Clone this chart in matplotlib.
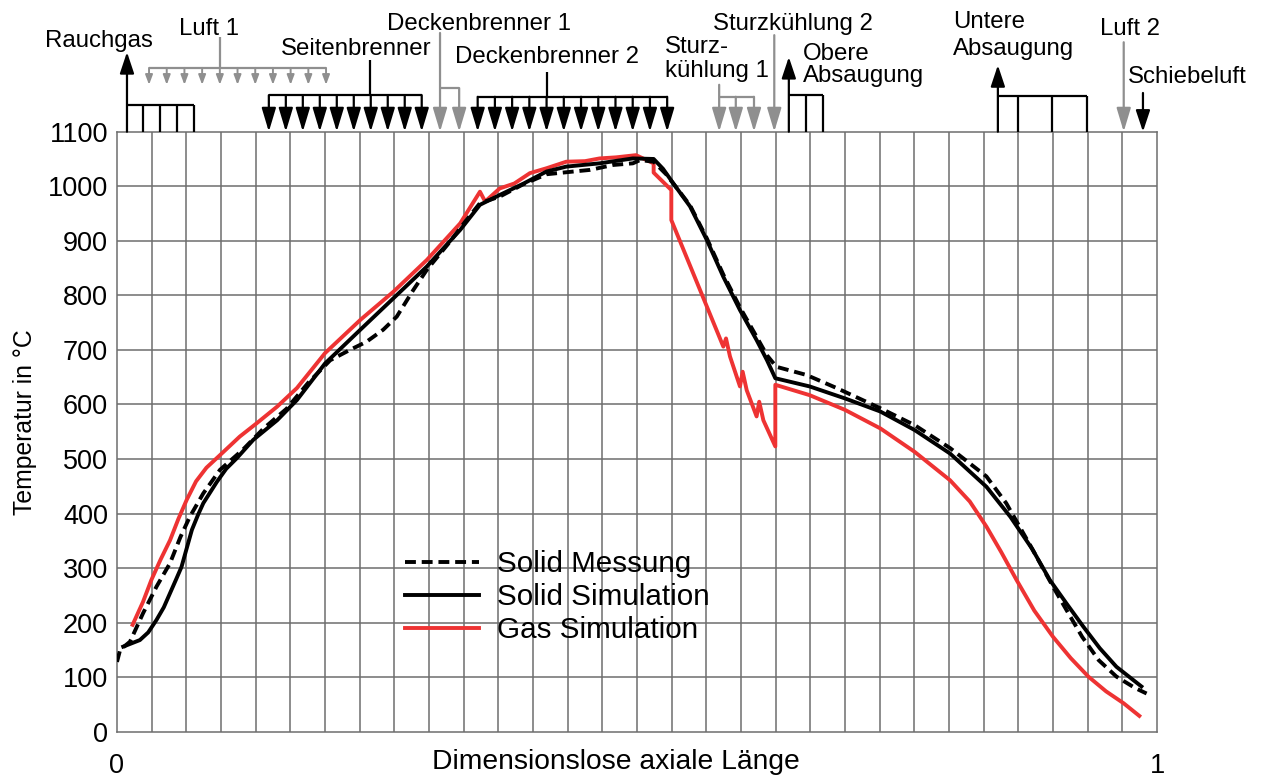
import matplotlib
matplotlib.use("Agg")
import matplotlib.pyplot as plt

plt.rcParams['font.family'] = ['Liberation Sans', 'DejaVu Sans']

# ---------------- data ----------------
gas_x = [0.015, 0.025, 0.033, 0.042, 0.051, 0.059, 0.067, 0.076, 0.086, 0.099,
         0.118, 0.134, 0.154, 0.173,
         0.200, 0.234, 0.266, 0.298, 0.330, 0.349, 0.354, 0.368, 0.382, 0.397,
         0.413, 0.432, 0.450, 0.464, 0.480, 0.499, 0.516, 0.516, 0.533, 0.533,
         0.583, 0.5856, 0.5894, 0.599, 0.6016, 0.6055, 0.615, 0.6175, 0.6215,
         0.633, 0.633, 0.666, 0.700, 0.734, 0.767, 0.801, 0.820, 0.836, 0.850,
         0.865, 0.882, 0.900, 0.917, 0.934, 0.951, 0.968, 0.983]
gas_y = [196, 238, 278, 316, 351, 390, 425, 459, 484, 507,
         541, 565, 596, 630,
         694, 755, 807, 865, 932, 990, 972, 996, 1005, 1024,
         1033, 1045, 1046, 1051, 1053, 1057, 1042, 1025, 993, 938,
         706, 721, 688, 633, 660, 626, 578, 605, 571,
         523, 636, 617, 590, 556, 513, 461, 422, 376, 330,
         278, 222, 174, 135, 101, 74, 52, 29]

sim_x = [0.006, 0.022, 0.030, 0.038, 0.045, 0.051, 0.057, 0.062, 0.067, 0.072,
         0.078, 0.083, 0.090, 0.096, 0.105, 0.115, 0.131,
         0.154, 0.173, 0.200, 0.234, 0.266, 0.298, 0.330, 0.349, 0.368, 0.391,
         0.413, 0.432, 0.464, 0.496, 0.516, 0.525, 0.535, 0.551, 0.567, 0.583,
         0.599, 0.615, 0.625, 0.633, 0.666, 0.700, 0.734, 0.767, 0.801, 0.836,
         0.859, 0.880, 0.897, 0.913, 0.929, 0.945, 0.961, 0.977, 0.985]
sim_y = [156, 168, 182, 205, 228, 254, 280, 302, 336, 370,
         398, 419, 440, 458, 482, 501, 535,
         571, 608, 675, 737, 795, 853, 920, 966, 984, 1005,
         1027, 1036, 1042, 1051, 1050, 1032, 1005, 963, 902, 834,
         773, 718, 681, 648, 633, 611, 587, 553, 510, 449,
         394, 335, 278, 235, 193, 153, 119, 95, 83]

mes_x = [0.000, 0.003, 0.0125, 0.025, 0.038, 0.051, 0.061, 0.070, 0.083, 0.099,
         0.121, 0.141, 0.163, 0.184, 0.205, 0.224, 0.240, 0.256, 0.269, 0.285,
         0.298, 0.320, 0.336, 0.349, 0.368, 0.390, 0.413, 0.439, 0.455, 0.477,
         0.496, 0.503, 0.516, 0.528, 0.551, 0.567, 0.583, 0.599, 0.615, 0.625,
         0.634, 0.663, 0.692, 0.734, 0.767, 0.801, 0.836, 0.855, 0.878, 0.900,
         0.913, 0.928, 0.944, 0.961, 0.979, 0.990]
mes_y = [128, 150, 165, 217, 266, 309, 357, 394, 437, 480,
         517, 556, 592, 640, 681, 700, 715, 737, 761, 810,
         847, 898, 938, 969, 981, 1003, 1022, 1027, 1030, 1039,
         1042, 1048, 1045, 1022, 965, 905, 838, 778, 724, 690,
         669, 654, 630, 593, 562, 520, 468, 419, 342, 266,
         223, 174, 131, 101, 80, 70]

y_ticks = [0, 100, 200, 300, 400, 500, 600, 700, 800, 900, 1000, 1100]
x_ticks = [0, 1]
n_cells = 30

legend_labels = ["Solid Messung", "Solid Simulation", "Gas Simulation"]

# ---------------- figure ----------------
fig = plt.figure(figsize=(12.63, 7.78), dpi=100)
ax = fig.add_axes([117/1263, 1-731.7/778, 1040/1263, 600/778])
ax.set_xlim(0, 1)
ax.set_ylim(0, 1100)

grid_c = '#6e6e6e'
for k in range(1, n_cells):
    ax.axvline(k / n_cells, color=grid_c, lw=1.1, zorder=1)
for t in y_ticks[1:-1]:
    ax.axhline(t, color=grid_c, lw=1.1, zorder=1)
for s in ax.spines.values():
    s.set_color(grid_c)
    s.set_linewidth(1.1)

RED = '#ee3333'
l1, = ax.plot(mes_x, mes_y, color='black', lw=2.8, ls=(0, (2.8, 1.5)), zorder=4)
l2, = ax.plot(sim_x, sim_y, color='black', lw=2.8, zorder=3)
l3, = ax.plot(gas_x, gas_y, color=RED, lw=2.8, zorder=2)

ax.set_yticks(y_ticks)
ax.set_yticklabels([str(t) for t in y_ticks])
ax.set_xticks(x_ticks)
ax.set_xticklabels(['0', '1'])
ax.tick_params(axis='y', length=0, pad=6.5, labelsize=19.5)
ax.tick_params(axis='x', length=0, pad=15, labelsize=19.5)

ax.text(0.48, -0.051, "Dimensionslose axiale Länge", transform=ax.transAxes,
        ha='center', va='center', fontsize=20.3)
ax.text(-0.0885, 0.516, "Temperatur in °C", transform=ax.transAxes,
        ha='center', va='center', rotation=90, fontsize=17.8)

leg = ax.legend([l1, l2, l3], legend_labels, loc='upper left',
                bbox_to_anchor=(0.277, 0.302), frameon=False, fontsize=21.3,
                handlelength=2.5, handletextpad=0.6, labelspacing=0.16,
                borderpad=0, borderaxespad=0)

# ---------------- top annotations ----------------
BLACK = 'black'
GRAY = '#8f8f8f'
PX = 0.72  # points per pixel


def line(xs, ys, color, lw=1.6):
    ax.plot(xs, ys, color=color, lw=lw, clip_on=False, solid_capstyle='butt', zorder=5)


def arrow(x, y_from, y_to, color, hl_px, hw_px, lw=1.6):
    style = '-|>,head_length=%.3f,head_width=%.3f' % (hl_px * PX / 10, hw_px / 2 * PX / 10)
    ax.annotate('', xy=(x, y_to), xytext=(x, y_from), xycoords='data',
                arrowprops=dict(arrowstyle=style, color=color, lw=lw,
                                shrinkA=0, shrinkB=0, mutation_scale=10),
                annotation_clip=False, zorder=5)


# Rauchgas
arrow(0.0096, 1100, 1246, BLACK, 18, 12)
line([0.0096, 0.074], [1149, 1149], BLACK)
for xv in [0.025, 0.0413, 0.0577, 0.074]:
    line([xv, xv], [1100, 1149], BLACK)

# Luft 1
line([0.099, 0.099], [1274, 1217], GRAY)
line([0.0308, 0.201], [1217, 1217], GRAY)
for i in range(11):
    xv = 0.0308 + i * (0.201 - 0.0308) / 10
    arrow(xv, 1217, 1186, GRAY, 8, 6, lw=1.4)

# Seitenbrenner
line([0.2433, 0.2433], [1231, 1167], BLACK)
line([0.146, 0.293], [1167, 1167], BLACK)
for i in range(10):
    xv = 0.146 + i * (0.293 - 0.146) / 9
    arrow(xv, 1167, 1100, BLACK, 20, 12)

# Deckenbrenner 1
arrow(0.3106, 1281, 1100, GRAY, 20, 12)
line([0.3106, 0.329], [1180, 1180], GRAY)
arrow(0.329, 1180, 1100, GRAY, 20, 12)

# Deckenbrenner 2
line([0.4137, 0.4137], [1209, 1164], BLACK)
line([0.3468, 0.529], [1164, 1164], BLACK)
for i in range(12):
    xv = 0.3468 + i * (0.529 - 0.3468) / 11
    arrow(xv, 1164, 1100, BLACK, 20, 12)

# Sturzkuehlung 1
arrow(0.579, 1186, 1100, GRAY, 20, 12)
line([0.579, 0.6125], [1164, 1164], GRAY)
arrow(0.595, 1164, 1100, GRAY, 20, 12)
arrow(0.6125, 1164, 1100, GRAY, 20, 12)

# Sturzkuehlung 2
arrow(0.632, 1277, 1100, GRAY, 20, 12)

# Obere Absaugung
arrow(0.646, 1100, 1237, BLACK, 18, 12)
line([0.646, 0.679], [1167, 1167], BLACK)
for xv in [0.6625, 0.679]:
    line([xv, xv], [1100, 1167], BLACK)

# Untere Absaugung
arrow(0.847, 1100, 1222, BLACK, 18, 12)
line([0.847, 0.933], [1165, 1165], BLACK)
for xv in [0.866, 0.899, 0.933]:
    line([xv, xv], [1100, 1165], BLACK)

# Luft 2
arrow(0.968, 1264, 1100, GRAY, 20, 12)
# Schiebeluft
arrow(0.9865, 1171, 1100, BLACK, 18, 12)

FS = 17.3
labels = [
    ("Rauchgas", -0.0178, 1256, 'center'),
    ("Luft 1", 0.0885, 1277, 'center'),
    ("Seitenbrenner", 0.230, 1241, 'center'),
    ("Deckenbrenner 1", 0.2596, 1286.5, 'left'),
    ("Deckenbrenner 2", 0.325, 1226, 'left'),
    ("Sturz-", 0.527, 1244, 'left'),
    ("kühlung 1", 0.527, 1200, 'left'),
    ("Sturzkühlung 2", 0.573, 1286.5, 'left'),
    ("Obere", 0.6596, 1231, 'left'),
    ("Absaugung", 0.6596, 1191, 'left'),
    ("Untere", 0.804, 1290, 'left'),
    ("Absaugung", 0.804, 1241, 'left'),
    ("Luft 2", 0.945, 1277, 'left'),
    ("Schiebeluft", 0.972, 1189, 'left'),
]
for txt, xv, yv, ha in labels:
    ax.text(xv, yv, txt, ha=ha, va='baseline', fontsize=FS, clip_on=False)

fig.savefig("out.png", dpi=100)
